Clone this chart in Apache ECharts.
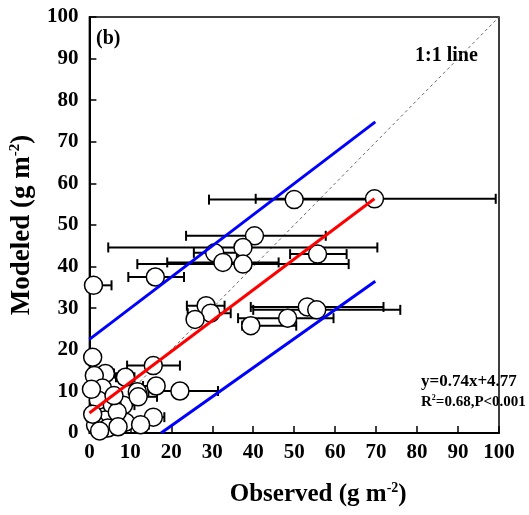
<!DOCTYPE html>
<html>
<head>
<meta charset="utf-8">
<script src="https://cdn.jsdelivr.net/npm/echarts@6/dist/echarts.min.js"></script>
<style>
  html, body { margin: 0; padding: 0; background: #fff; }
  #chart { width: 529px; height: 515px; }
</style>
</head>
<body>
<div id="chart"></div>
<script>
  'use strict'

  // observed (x), modeled (y), and the horizontal error range [lo, hi]
  var obsX  = [50.0, 69.6, 40.3, 37.5, 30.6, 55.7, 32.6, 37.5, 16.1, 1.0,
               28.5, 29.6, 25.8, 53.2, 55.5, 48.4, 39.4,
               15.6, 0.8, 3.9, 8.8, 1.2, 22.1, 16.3, 11.7, 3.2, 15.6,
               8.8, 8.3, 2.2, 5.6, 3.9, 1.5, 6.8, 11.9, 4.5, 0.8, 7.0, 12.5, 2.5, 6.0, 0.5];
  var modY  = [56.1, 56.3, 47.4, 44.6, 43.3, 43.0, 41.0, 40.6, 37.5, 35.5,
               30.6, 28.8, 27.3, 30.3, 29.6, 27.6, 25.8,
               16.2, 18.2, 14.3, 13.4, 13.8, 10.1, 11.3, 9.9, 10.8, 3.8,
               2.6, 6.7, 7.9, 6.7, 3.1, 1.9, 5.0, 8.7, 1.2, 4.5, 1.5, 2.0, 0.5, 9.0, 10.5];
  var errLo = [29.2, 40.6, 23.6, 4.6, 25.5, 49.0, 19.0, 11.7, 9.5, 0,
               23.8, 24.0, 24.6, 39.4, 40.0, 36.3, 37.3,
               9.2, 0, 2.0, 6.5, 0, 14.4, 13.1, 10.0, 1.5, 14.0,
               6.0, 5.5, 0.5, 4.0, 2.0, 0, 4.5, 10.4, 3.0, 0, 5.0, 10.0, 1.0, 4.5, 0];
  var errHi = [68.0, 99.2, 57.7, 70.3, 36.0, 62.8, 46.2, 63.3, 23.1, 5.4,
               33.0, 34.5, 27.2, 71.8, 75.9, 59.6, 50.5,
               22.1, 2.5, 6.0, 11.0, 3.0, 31.4, 18.0, 13.5, 5.0, 18.3,
               11.5, 11.0, 4.0, 7.5, 6.0, 3.0, 9.0, 16.5, 6.5, 2.0, 9.0, 14.5, 4.0, 7.5, 2.0];

  // line end points
  var fitLine   = [[0, 4.8], [69.6, 56.3]];
  var upperLine = [[0, 22.5], [69.8, 74.8]];
  var lowerLine = [[17.5, 0], [69.8, 36.5]];
  var oneToOne  = [[0, 0], [100, 100]];

  var axisMin = 0, axisMax = 100, axisStep = 10;

  var pts = [], errs = [];
  for (var i = 0; i < obsX.length; i++) {
    pts.push([obsX[i], modY[i]]);
    errs.push([obsX[i], modY[i], errLo[i], errHi[i]]);
  }

  var font = 'Liberation Serif';

  function renderErr(params, api) {
    var y = api.value(1);
    var lo = api.coord([api.value(2), y]);
    var hi = api.coord([api.value(3), y]);
    var h = 5;
    var st = { stroke: '#000', lineWidth: 2 };
    return {
      type: 'group',
      children: [
        { type: 'line', shape: { x1: lo[0], y1: lo[1], x2: hi[0], y2: hi[1] }, style: st },
        { type: 'line', shape: { x1: lo[0], y1: lo[1] - h, x2: lo[0], y2: lo[1] + h }, style: st },
        { type: 'line', shape: { x1: hi[0], y1: hi[1] - h, x2: hi[0], y2: hi[1] + h }, style: st }
      ]
    };
  }

  var chart = echarts.init(document.getElementById('chart'), null, { renderer: 'canvas' });

  var labelStyle = { fontFamily: font, fontWeight: 'bold', fontSize: 21, color: '#000' };
  function richFor(size) {
    return {
      n: { fontFamily: font, fontWeight: 'bold', fontSize: size, color: '#000' },
      s: { fontFamily: font, fontWeight: 'bold', fontSize: Math.round(size * 0.55), color: '#000', verticalAlign: 'top', padding: [0, 0, Math.round(size * 0.5), 0] }
    };
  }

  var option = {
    animation: false,
    grid: {
      left: 88, right: 30, top: 17, bottom: 82,
      show: true, borderColor: '#000', borderWidth: 1.5
    },
    xAxis: {
      type: 'value', min: axisMin, max: axisMax, interval: axisStep,
      name: '{n|Observed (g m}{s|-2}{n|)}',
      nameLocation: 'middle', nameGap: 48,
      nameTextStyle: { rich: richFor(25), padding: [0, 0, 0, 48] },
      axisLine: { lineStyle: { color: '#000', width: 2 } },
      axisTick: { inside: true, length: 7, lineStyle: { color: '#000', width: 1.5 } },
      axisLabel: Object.assign({ margin: 9 }, labelStyle),
      splitLine: { show: false }
    },
    yAxis: {
      type: 'value', min: axisMin, max: axisMax, interval: axisStep,
      name: '{n|Modeled (g m}{s|-2}{n|)}',
      nameLocation: 'middle', nameGap: 47,
      nameTextStyle: { rich: richFor(27) },
      axisLine: { lineStyle: { color: '#000', width: 2 } },
      axisTick: { inside: true, length: 7, lineStyle: { color: '#000', width: 1.5 } },
      axisLabel: Object.assign({ margin: 11 }, labelStyle),
      splitLine: { show: false }
    },
    graphic: [
      { type: 'text', left: 96, top: 29, style: { text: '(b)', font: 'bold 20px "Liberation Serif"', fill: '#000' } },
      { type: 'text', left: 415, top: 46, style: { text: '1:1 line', font: 'bold 20px "Liberation Serif"', fill: '#000' } },
      { type: 'text', left: 421, top: 373, style: { text: 'y=0.74x+4.77', font: 'bold 17px "Liberation Serif"', fill: '#000' } },
      { type: 'text', left: 421, top: 394, style: {
          text: '{n|R}{s|2}{n|=0.68,P<0.001}',
          rich: richFor(15)
        } }
    ],
    series: [
      {
        type: 'line', data: oneToOne, symbol: 'none', z: 1,
        lineStyle: { color: '#666', width: 1, type: [3, 3] }
      },
      {
        type: 'custom', data: errs, renderItem: renderErr, z: 2,
        encode: { x: [0, 2, 3], y: 1 }
      },
      {
        type: 'scatter', data: pts, symbol: 'circle', symbolSize: 18, z: 3,
        itemStyle: { color: '#fff', borderColor: '#000', borderWidth: 1.5, opacity: 1 }
      },
      {
        type: 'line', data: fitLine, symbol: 'none', z: 4,
        lineStyle: { color: '#ff0000', width: 3 }
      },
      {
        type: 'line', data: upperLine, symbol: 'none', z: 4,
        lineStyle: { color: '#0000ff', width: 3 }
      },
      {
        type: 'line', data: lowerLine, symbol: 'none', z: 4,
        lineStyle: { color: '#0000ff', width: 3 }
      }
    ]
  };

  chart.setOption(option);
</script>
</body>
</html>
